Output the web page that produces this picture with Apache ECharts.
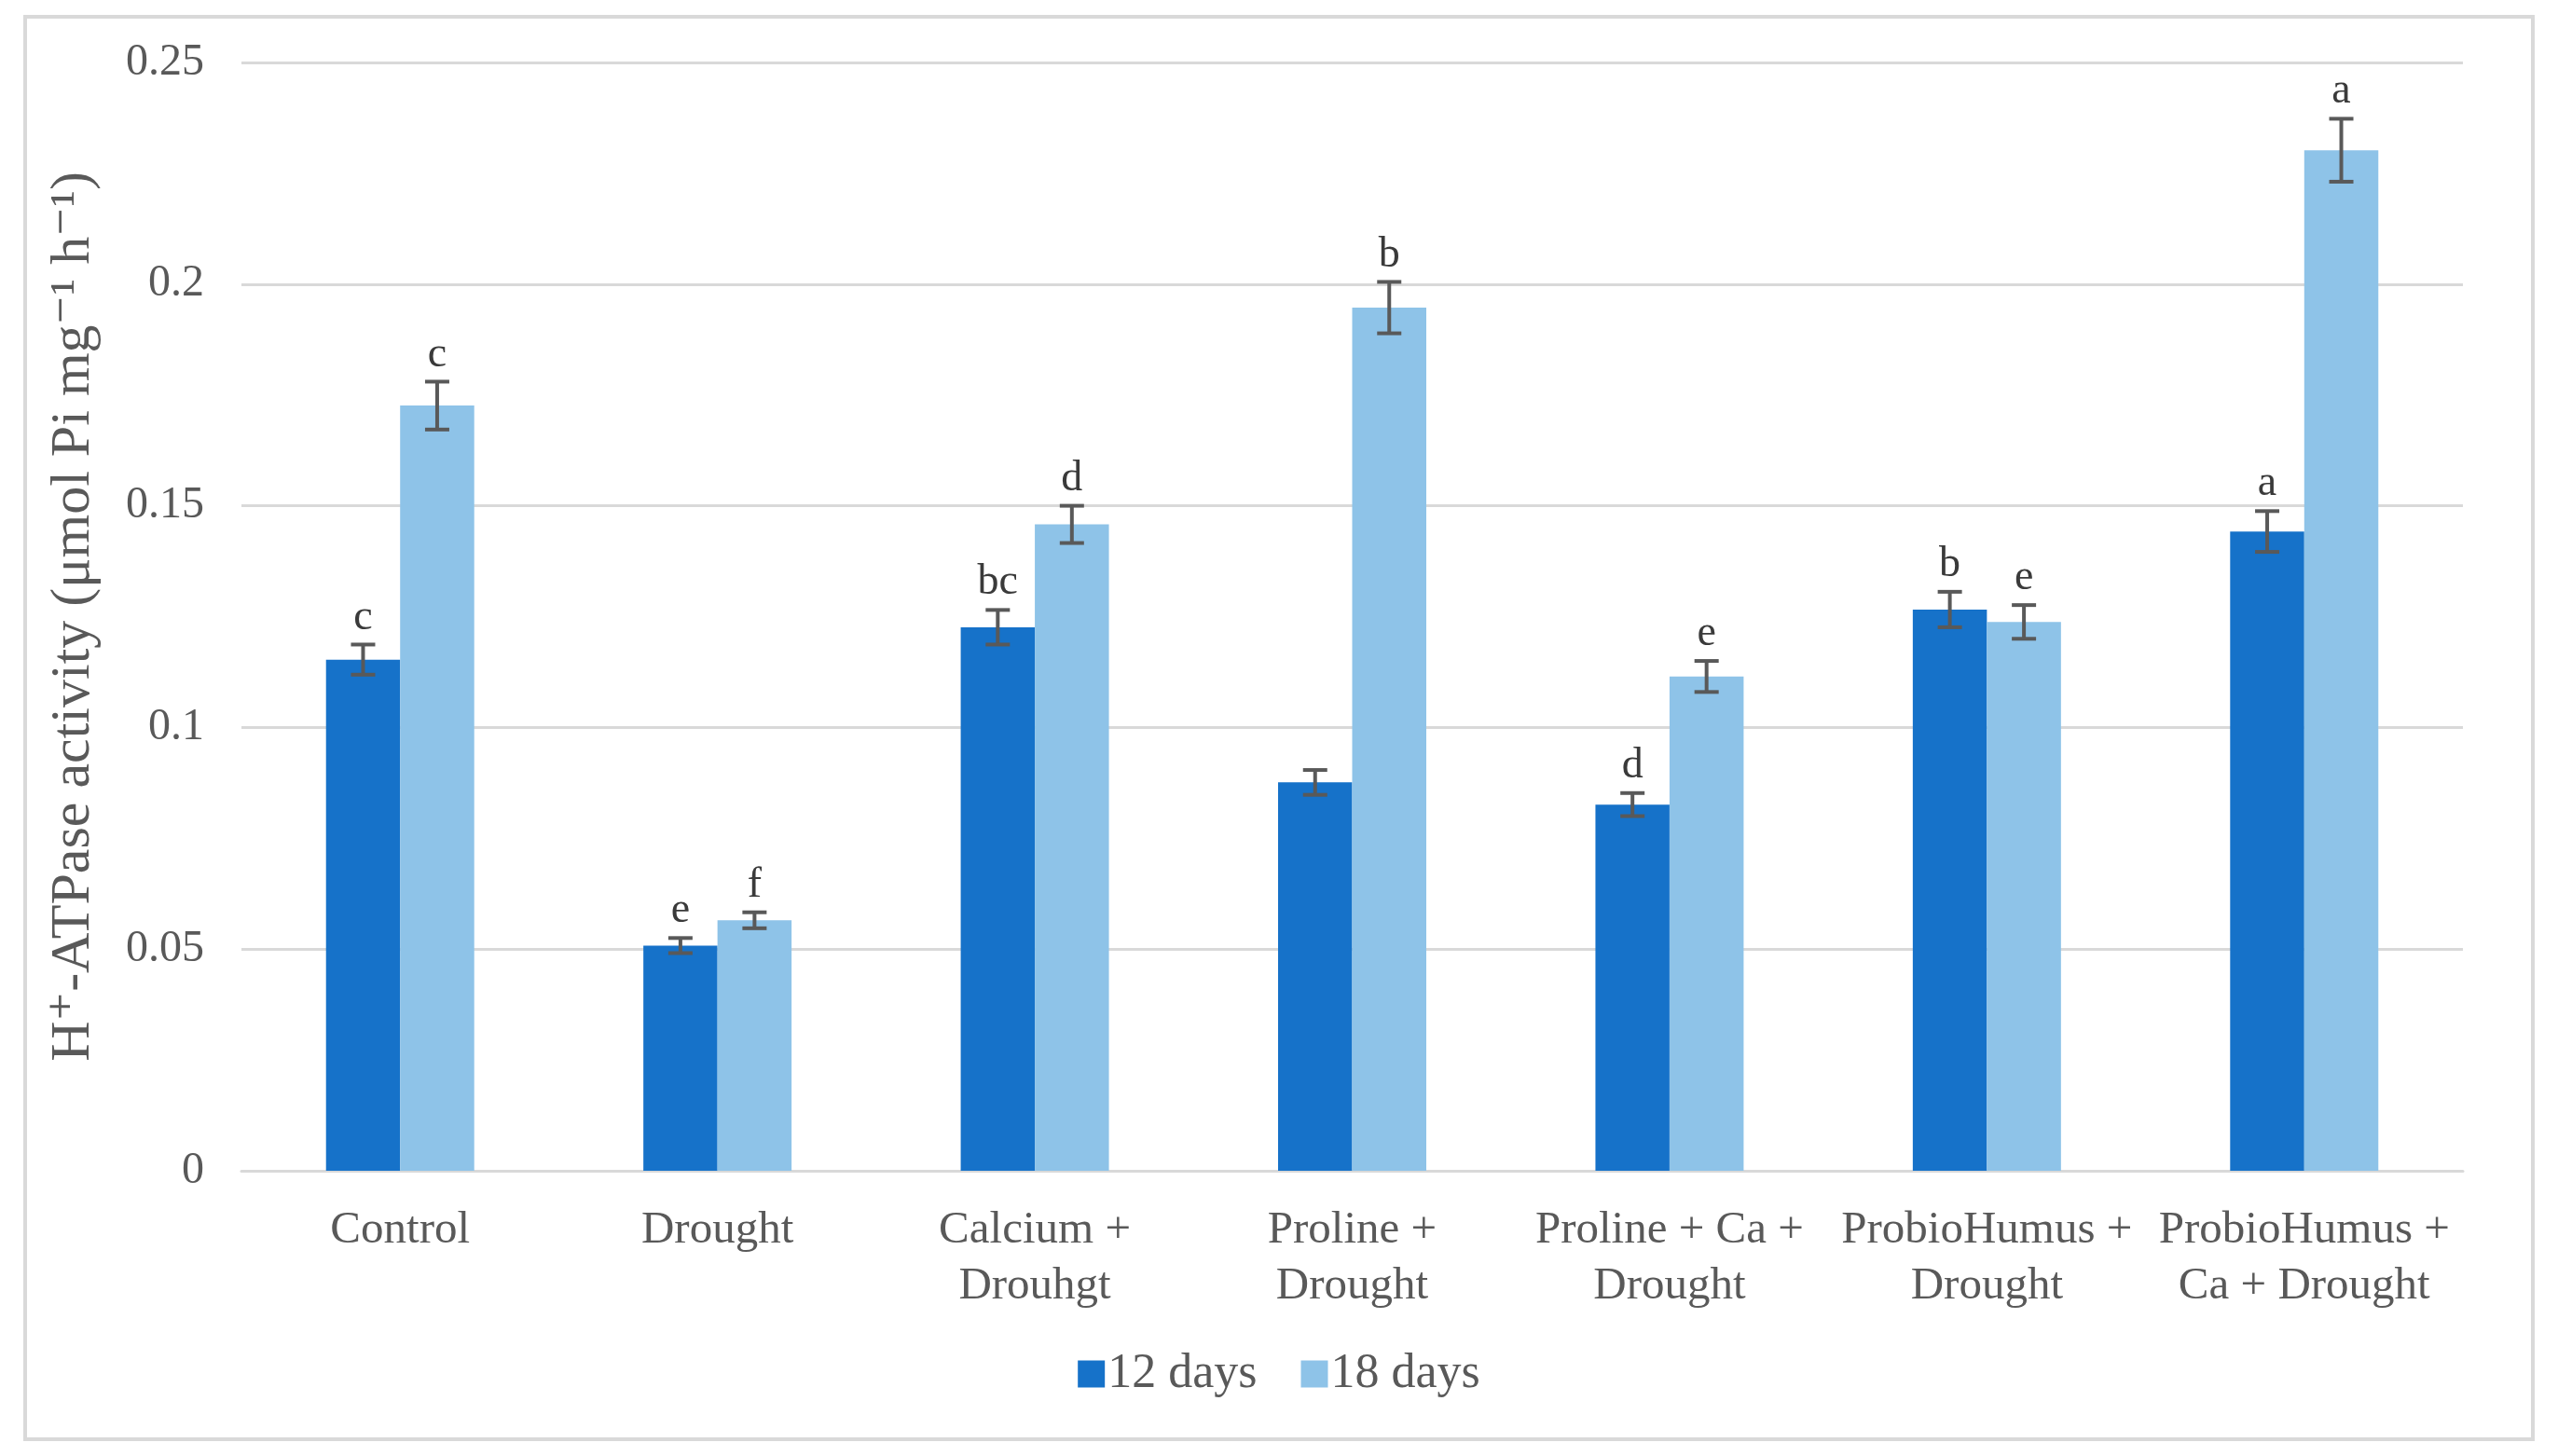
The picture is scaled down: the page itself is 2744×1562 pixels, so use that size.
<!DOCTYPE html>
<html>
<head>
<meta charset="utf-8">
<script src="https://cdn.jsdelivr.net/npm/echarts@6/dist/echarts.min.js"></script>
<style>
html,body{margin:0;padding:0;background:#fff;}
#chart{width:2744px;height:1562px;}
</style>
</head>
<body>
<div id="chart"></div>
<script>
const categories = ['Control', 'Drought', 'Calcium +\nDrouhgt', 'Proline +\nDrought', 'Proline + Ca +\nDrought', 'ProbioHumus +\nDrought', 'ProbioHumus +\nCa + Drought'];
const seriesNames = ['12 days', '18 days'];
const days12 = [0.1153, 0.0508, 0.1226, 0.0876, 0.0826, 0.1266, 0.1442];
const days18 = [0.1726, 0.0565, 0.1458, 0.1947, 0.1115, 0.1238, 0.2302];
const err12 = [0.0034, 0.0017, 0.0039, 0.0028, 0.0026, 0.0040, 0.0046];
const err18 = [0.0054, 0.0018, 0.0042, 0.0058, 0.0035, 0.0038, 0.0071];
const letters12 = ['c', 'e', 'bc', '', 'd', 'b', 'a'];
const letters18 = ['c', 'f', 'd', 'b', 'e', 'e', 'a'];
const yTicks = [0, 0.05, 0.1, 0.15, 0.2, 0.25];

const FONT = '"Liberation Serif", "DejaVu Serif", serif';
const GAP = 0.533;
const colors = ['#1672C9', '#8EC3E8'];

function errSeries(idx, vals, errs, letters) {
  return {
    type: 'custom',
    name: seriesNames[idx] + ' err',
    data: vals.map((v, i) => [i, v, errs[i]]),
    encode: { x: 0, y: 1 },
    z: 10,
    silent: true,
    renderItem: function (params, api) {
      const i = api.value(0), v = api.value(1), e = api.value(2);
      const band = api.size([1, 0])[0];
      const bw = band * (1 - GAP) / 2;
      const cx = api.coord([i, v])[0] + (idx - 0.5) * bw;
      const yTop = api.coord([i, v + e])[1];
      const yBot = api.coord([i, v - e])[1];
      const cap = 13;
      const st = { stroke: '#595959', lineWidth: 4 };
      const children = [
        { type: 'line', shape: { x1: cx, y1: yTop, x2: cx, y2: yBot }, style: st },
        { type: 'line', shape: { x1: cx - cap, y1: yTop, x2: cx + cap, y2: yTop }, style: st },
        { type: 'line', shape: { x1: cx - cap, y1: yBot, x2: cx + cap, y2: yBot }, style: st }
      ];
      const lab = letters[params.dataIndex];
      if (lab) {
        children.push({
          type: 'text',
          style: {
            x: cx, y: yTop - 6, text: lab, fill: '#3a3a3a',
            font: '46px ' + FONT, textAlign: 'center', textVerticalAlign: 'bottom'
          }
        });
      }
      return { type: 'group', children: children };
    }
  };
}

const chart = echarts.init(document.getElementById('chart'));
chart.setOption({
  backgroundColor: '#ffffff',
  animation: false,
  graphic: [{
    type: 'rect', silent: true, z: -1,
    shape: { x: 27, y: 18, width: 2690, height: 1526 },
    style: { fill: 'none', stroke: '#d9d9d9', lineWidth: 4 }
  }],
  grid: { left: 259, right: 102, top: 67, bottom: 306, containLabel: false },
  legend: {
    data: seriesNames,
    left: 'center',
    top: 1443,
    itemWidth: 29,
    itemHeight: 29,
    itemGap: 47,
    icon: 'rect',
    textStyle: { fontFamily: FONT, fontSize: 52, color: '#595959', padding: [0, 0, 0, -2] }
  },
  xAxis: {
    type: 'category',
    data: categories,
    axisLine: { show: true, lineStyle: { color: '#d9d9d9', width: 3 } },
    axisTick: { show: false },
    axisLabel: {
      fontFamily: FONT, fontSize: 49, color: '#595959', margin: 34, lineHeight: 60, interval: 0
    }
  },
  yAxis: {
    type: 'value',
    min: 0, max: 0.25, interval: 0.05,
    name: 'H⁺-ATPase activity (μmol Pi mg⁻¹ h⁻¹)',
    nameLocation: 'middle',
    nameGap: 150,
    nameTextStyle: { fontFamily: FONT, fontSize: 60, color: '#595959' },
    axisLine: { show: false },
    axisTick: { show: false },
    splitLine: { lineStyle: { color: '#d9d9d9', width: 3 } },
    axisLabel: {
      fontFamily: FONT, fontSize: 48, color: '#595959', margin: 40,
      formatter: function (v) { return yTicks.indexOf(+v.toFixed(2)) >= 0 ? String(+v.toFixed(2)) : ''; }
    }
  },
  series: [
    { type: 'bar', name: seriesNames[0], data: days12, barGap: '0%', barCategoryGap: (GAP * 100) + '%', itemStyle: { color: colors[0] } },
    { type: 'bar', name: seriesNames[1], data: days18, barGap: '0%', barCategoryGap: (GAP * 100) + '%', itemStyle: { color: colors[1] } },
    errSeries(0, days12, err12, letters12),
    errSeries(1, days18, err18, letters18)
  ]
});
</script>
</body>
</html>
